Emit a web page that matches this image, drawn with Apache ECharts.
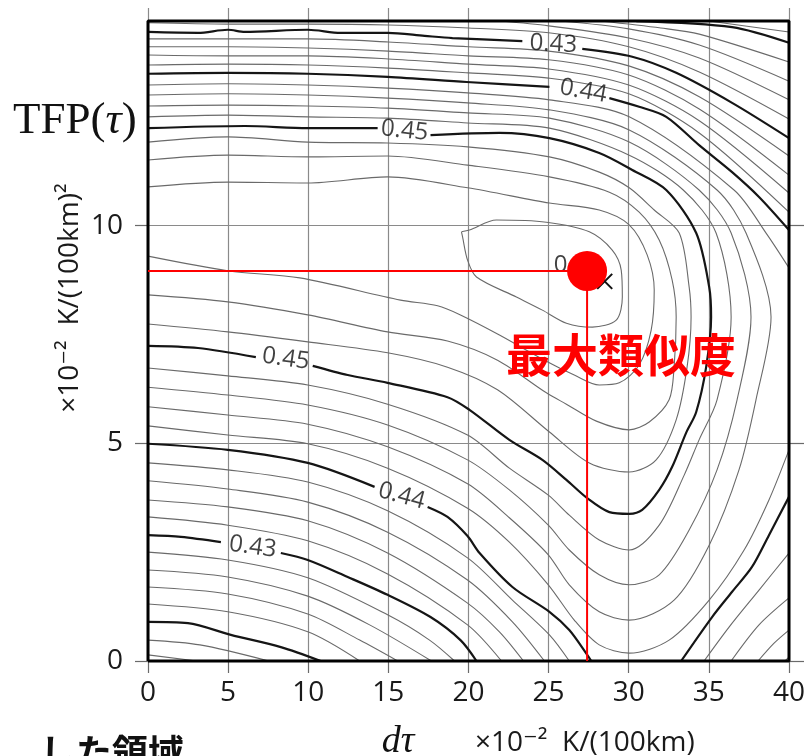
<!DOCTYPE html>
<html><head><meta charset="utf-8">
<script src="https://cdn.jsdelivr.net/npm/echarts@6/dist/echarts.min.js"></script>
<style>html,body{margin:0;padding:0;background:#fff}#c{width:808px;height:756px}</style>
</head><body><div id="c"></div>
<script>
// ---- axes ----
const X_MIN = 0, X_MAX = 40, Y_MIN = 0, Y_MAX = 15, STEP = 5;
const FRAME_TOP = 14.7;              // top of the computed TFP field
const yTickValues = [0, 5, 10];

// ---- maximum likelihood point ----
const peak = [27.4, 8.96];
const peakCross = [28.5, 8.72];

// ---- contour lines [dτ, TFP]; null separates pieces ----
const c416 = [[0,0.14],[3.05,0]];
const c418 = [[0,0.48],[3.24,0.37],[7.54,0], null, [35,14.70],[40,14.45]];
const c420 = [[30.47,14.70],[36.45,14.56],[40,14.20], null,
  [0,0.90],[2.49,0.87],[5.17,0.60],[8.29,0.32],[10.78,0]];
const c422 = [[28.2,14.70],[32,14.54],[34.4,14.40],[40,13.76], null,
  [0,1.31],[4.98,1.13],[9.97,0.67],[13.21,0]];
const c424 = [[25.7,14.70],[30,14.52],[34.4,14.15],[40,13.32], null,
  [0,1.70],[4.98,1.54],[9.97,1.08],[13.21,0.48],[15.58,0]];
const c426 = [[22.0,14.70],[25,14.59],[30,14.31],[34.4,13.85],[40,12.89], null,
  [0,2.09],[4.98,1.93],[9.97,1.49],[13.83,0.83],[17.69,0]];
const c428 = [[0,14.66],[5,14.63],[10,14.63],[15,14.61],[20,14.54],[25,14.43],[30,14.11],[34.4,13.53],[40,12.45], null,
  [0,2.50],[4.98,2.32],[9.97,1.91],[14.95,1.06],[17.57,0.48],[19.13,0]];
const c430 = [[0,14.45],[3.12,14.43],[4.98,14.50],[6.04,14.45],[9.97,14.50],[12.02,14.43],[14.95,14.43],[17.26,14.36],[19.00,14.31],[23.36,14.24], null,
  [27.10,14.06],[30.22,13.88],[32.96,13.51],[36.45,12.82],[40,12.01], null,
  [0,2.89],[2.06,2.85],[4.55,2.73], null,
  [8.29,2.48],[9.97,2.32],[12.46,1.93],[14.95,1.52],[17.63,1.01],[19.50,0.48],[20.50,0]];
const c432 = [[0,14.29],[5,14.29],[10,14.29],[15,14.22],[20,14.11],[25,14.01],[30,13.67],[34.4,12.96],[40,11.60], null,
  [0,3.31],[4.98,3.12],[9.97,2.76],[14.95,2.00],[19.94,0.83],[22.06,0], null,
  [39.75,0],[40,0.09]];
const c434 = [[0,14.11],[5,14.11],[10,14.08],[15,14.01],[20,13.90],[25,13.81],[30,13.46],[34.4,12.68],[40,11.16], null,
  [0,3.70],[4.98,3.54],[9.97,3.22],[14.95,2.48],[19.94,1.33],[21.93,0.67],[23.43,0], null,
  [38.07,0],[39.07,0.41],[40,0.71]];
const c436 = [[0,13.92],[5,13.90],[10,13.90],[15,13.83],[20,13.71],[25,13.60],[30,13.23],[34.4,12.41],[40,10.75], null,
  [0,4.14],[4.98,3.95],[9.97,3.65],[14.95,2.96],[19.94,1.86],[22.74,0.90],[24.74,0], null,
  [36.39,0],[38.13,0.83],[40,1.45]];
const c438 = [[0,13.69],[5,13.71],[10,13.69],[15,13.62],[20,13.51],[25,13.39],[30,13.03],[34.4,12.13],[40,10.31], null,
  [0,4.55],[4.98,4.39],[9.97,4.11],[14.95,3.45],[19.94,2.37],[22.74,1.40],[25.05,0.60],[26.29,0], null,
  [34.70,0],[36.26,0.78],[38.13,1.63],[40,2.48]];
const c440 = [[0,13.49],[4.98,13.51],[9.97,13.49],[14.95,13.42],[19.88,13.30],[25.05,13.19], null,
  [28.79,12.93],[30.65,12.73],[32.34,12.50],[34.39,11.85],[36.45,11.23],[38.13,10.66],[40,9.90], null,
  [0,4.99],[4.98,4.85],[9.97,4.55],[14.14,4.00], null,
  [17.45,3.54],[18.69,3.31],[19.94,2.87],[20.69,2.48],[22.74,1.70],[25.05,1.13],[26.29,0.71],[27.41,0.14],[27.66,0], null,
  [33.27,0],[35.20,1.01],[36.45,1.59],[37.69,2.16],[38.75,2.89],[40,3.77]];
const c442 = [[0,13.23],[4.98,13.26],[9.97,13.23],[14.95,13.16],[19.94,13.05],[25.05,12.89],[30.03,12.50],[36.57,10.82],[38.57,9.83],[40,9.03], null,
  [40,4.85],[38.75,3.70],[37.20,2.55],[35.02,1.40],[32.52,0.48],[30.03,0.18],[28.16,0.37],[26.60,0.94],[24.98,1.75],[22.55,2.73],[19.94,3.51],[14.95,4.43],[9.97,4.99],[4.98,5.19],[0,5.40]];
const c444 = [[0,13.00],[4.98,13.03],[9.97,13.00],[14.95,12.93],[19.94,12.82],[25.05,12.66],[30.03,12.20],[35.51,10.82],[37.32,9.83],[38.88,7.90],[37.94,6.00],[36.88,4.39],[35.02,2.66],[32.83,1.40],[30.03,0.94],[28.16,1.13],[26.29,1.75],[24.98,2.44],[22.55,3.29],[19.94,4.07],[14.95,4.92],[9.97,5.44],[4.98,5.65],[0,5.84]];
const c446 = [[0,12.75],[4.98,12.77],[9.97,12.75],[14.95,12.70],[19.94,12.59],[25.05,12.47],[30.03,11.92],[34.39,10.82],[36.39,9.83],[37.63,7.90],[36.76,6.00],[35.51,4.39],[33.77,3.01],[31.90,1.98],[30.03,1.75],[28.16,1.98],[26.29,2.55],[24.98,3.12],[22.55,3.93],[19.94,4.62],[14.95,5.42],[9.97,5.88],[4.98,6.11],[0,6.29]];
const c448 = [[0,12.50],[4.98,12.54],[9.97,12.50],[14.95,12.47],[19.94,12.36],[25.05,12.24],[30.03,11.62],[33.40,10.82],[35.45,9.83],[36.39,7.90],[35.51,6.00],[34.39,5.08],[33.46,4.27],[31.90,3.12],[30.03,2.55],[28.16,2.78],[26.29,3.35],[24.98,3.81],[22.55,4.43],[19.94,5.19],[14.95,5.90],[9.97,6.34],[4.98,6.55],[0,6.73]];
const c450 = [[0,12.24],[6.04,12.29],[9.97,12.24],[14.33,12.24], null,
  [17.63,12.08],[21.93,12.13],[25.05,12.01],[28.16,11.67],[30.22,11.28],[32.34,10.82],[34.21,9.83],[35.02,8.59],[35.14,7.90],[34.83,6.75],[34.21,5.72],[33.58,5.24],[32.71,4.46],[31.90,3.93],[30.84,3.47],[30.03,3.38],[28.79,3.42],[27.41,3.74],[26.11,4.16],[24.61,4.62],[22.55,5.08],[20.06,5.77],[18.69,6.06],[14.95,6.39],[12.46,6.57],[10.28,6.78], null,
  [6.73,6.98],[3.12,7.19],[0,7.24]];
const c452 = [[0,11.92],[4.98,12.04],[9.97,11.92],[14.95,11.90],[19.94,11.81],[25.05,11.58],[28.16,11.23],[30.03,10.87],[31.59,10.36],[33.15,9.83],[33.77,8.59],[33.89,7.90],[33.64,6.75],[32.96,5.54],[31.71,4.62],[30.03,4.34],[27.54,4.55],[25.05,5.26],[21.81,6.23],[18.69,6.75],[14.95,7.08],[9.97,7.33],[4.98,7.56],[0,7.74]];
const c454 = [[0,11.51],[4.98,11.62],[9.97,11.58],[14.95,11.60],[19.94,11.39],[25.05,11.12],[28.79,10.77],[30.65,10.31],[31.90,9.67],[32.71,8.75],[32.96,7.90],[32.83,6.75],[32.52,6.00],[31.28,5.49],[30.03,5.31],[27.98,5.51],[26.11,5.90],[24.86,6.16],[21.81,6.91],[18.69,7.35],[14.95,7.56],[9.97,7.95],[4.98,8.25],[0,8.41]];
const c456 = [[0,10.89],[4.98,11.00],[9.97,10.98],[14.95,11.12],[19.94,10.87],[25.05,10.52],[28.16,10.36],[30.03,10.02],[31.15,9.33],[31.59,8.52],[31.40,7.60],[30.65,6.80],[29.41,6.39],[28.16,6.34],[26.60,6.57],[24.74,6.91],[21.93,7.49],[19.50,7.95],[18.07,8.16],[15.76,8.29],[9.47,8.80],[5.05,8.96],[0,9.30]];
const c458 = [[19.56,9.86],[20.06,9.90],[21.74,10.13],[24.86,10.08],[27.54,9.86],[28.97,9.44],[29.53,8.98],[29.60,8.36],[29.22,7.83],[27.73,7.67],[26.11,7.76],[24.61,8.06],[22.99,8.36],[20.50,8.82],[19.94,9.21],[19.63,9.74],[19.56,9.86]];

// ---- contour labels: text, dτ, TFP, rotation(deg) ----
const labelText = ['0.43','0.44','0.45','0.45','0.44','0.43','0.46'];
const labelX    = [25.30, 27.17, 16.01, 8.60, 15.83, 6.54, 26.80];
const labelY    = [14.17, 13.09, 12.18, 6.94, 3.79, 2.62, 9.10];
const labelRot  = [-3, -10, -6, -8, -15, -8, 0];

const contourSet = [
  [0.416,c416],[0.418,c418],[0.420,c420],[0.422,c422],[0.424,c424],[0.426,c426],[0.428,c428],
  [0.430,c430],[0.432,c432],[0.434,c434],[0.436,c436],[0.438,c438],[0.440,c440],[0.442,c442],
  [0.444,c444],[0.446,c446],[0.448,c448],[0.450,c450],[0.452,c452],[0.454,c454],[0.456,c456],[0.458,c458]
];

function splitPieces(pts){
  const out=[]; let cur=[];
  pts.forEach(p=>{ if(p===null){ if(cur.length) out.push(cur); cur=[]; } else cur.push(p); });
  if(cur.length) out.push(cur);
  return out;
}

const series = [];
contourSet.forEach(([lv, pts])=>{
  const bold = Math.round(lv*1000) % 10 === 0;
  splitPieces(pts).forEach(piece=>{
    series.push({
      type:'line', data:piece, symbol:'none', showSymbol:false, smooth:0.3, silent:true,
      lineStyle:{color: bold ? '#151515' : '#6a6a6a', width: bold ? 2.2 : 1.1},
      z: bold ? 4 : 3
    });
  });
});

// frame of computed field
series.push({
  type:'line', clip:false, symbol:'none', silent:true, z:6,
  data:[[X_MIN,Y_MIN],[X_MAX,Y_MIN],[X_MAX,FRAME_TOP],[X_MIN,FRAME_TOP],[X_MIN,Y_MIN]],
  lineStyle:{color:'#000', width:3}
});

// contour labels
series.push({
  type:'scatter', silent:true, z:7, symbolSize:1, itemStyle:{color:'rgba(0,0,0,0)'},
  data: labelText.map((t,i)=>({value:[labelX[i],labelY[i]], label:{
    show:true, position:'inside', formatter:t, rotate:labelRot[i],
    fontSize:24, fontFamily:'Open Sans', color:'#111'}}))
});

// red guide lines
series.push({type:'line', symbol:'none', silent:true, z:8, data:[[X_MIN,peak[1]],[peak[0],peak[1]]], lineStyle:{color:'#ff0000', width:2}});
series.push({type:'line', symbol:'none', silent:true, z:8, data:[[peak[0],peak[1]],[peak[0],Y_MIN]], lineStyle:{color:'#ff0000', width:2}});
// cross marker
series.push({type:'scatter', silent:true, z:8, symbol:'path://M0,0L10,10M10,0L0,10', symbolSize:15,
  data:[peakCross], itemStyle:{color:'rgba(0,0,0,0)', borderColor:'#111', borderWidth:2, opacity:1}});
// red dot
series.push({type:'scatter', silent:true, z:9, symbol:'circle', symbolSize:40,
  data:[peak], itemStyle:{color:'#ff0000', opacity:1}});

const labelFont = {fontSize:28, color:'#1a1a1a', fontFamily:'Open Sans'};

const option = {
  animation:false,
  backgroundColor:'#ffffff',
  grid:{left:148, right:18, top:8, bottom:95, containLabel:false},
  xAxis:{type:'value', min:X_MIN, max:X_MAX, interval:STEP,
    axisLine:{show:false},
    axisTick:{show:true, length:12, lineStyle:{color:'#6a6a6a', width:1.2}},
    axisLabel:Object.assign({margin:18}, labelFont),
    splitLine:{show:true, lineStyle:{color:'#8a8a8a', width:1.2}}},
  yAxis:[
    {type:'value', min:Y_MIN, max:Y_MAX, interval:STEP,
     axisLine:{show:false},
     axisTick:{show:true, length:13, customValues:yTickValues, lineStyle:{color:'#6a6a6a', width:1.2}},
     axisLabel:Object.assign({margin:25, customValues:yTickValues}, labelFont),
     splitLine:{show:true, lineStyle:{color:['#8a8a8a','#8a8a8a','#8a8a8a','rgba(0,0,0,0)'], width:1.2}}},
    {type:'value', position:'right', min:Y_MIN, max:Y_MAX, interval:STEP,
     axisLine:{show:false},
     axisTick:{show:true, length:15, customValues:yTickValues, lineStyle:{color:'#6a6a6a', width:1.2}},
     axisLabel:{show:false}, splitLine:{show:false}}
  ],
  graphic:[
    {type:'text', x:13, y:121, z:10, style:{
      text:'{a|TFP(}{b|τ}{a|)}', verticalAlign:'middle', align:'left',
      rich:{a:{fontSize:45, fontFamily:'Liberation Serif', fill:'#111', color:'#111'},
            b:{fontSize:45, fontFamily:'Liberation Serif', fontStyle:'italic', fill:'#111', color:'#111'}}}},
    {type:'text', x:70, y:298, rotation:Math.PI/2, z:10, style:{
      text:'×10⁻²  K/(100km)²', font:'28px "Open Sans", "DejaVu Sans"', fill:'#1a1a1a',
      align:'center', verticalAlign:'middle'}},
    {type:'text', x:398, y:742, z:10, style:{
      text:'dτ', font:'italic 38px "Liberation Serif"', fill:'#111', align:'center', verticalAlign:'middle'}},
    {type:'text', x:475, y:743, z:10, style:{
      text:'×10⁻²  K/(100km)', font:'28px "Open Sans", "DejaVu Sans"', fill:'#1a1a1a', align:'left', verticalAlign:'middle'}},
    {type:'text', x:621, y:355, z:12, style:{
      text:'最大類似度', font:'bold 46px "Noto Sans CJK JP"', fill:'#ff0000', align:'center', verticalAlign:'middle'}},
    {type:'text', x:40, y:752, z:10, style:{
      text:'した領域', font:'bold 36px "Noto Sans CJK JP"', fill:'#111', align:'left', verticalAlign:'middle'}}
  ],
  series:series
};

const chart = echarts.init(document.getElementById('c'), null, {renderer:'canvas'});
chart.setOption(option);
</script>
</body></html>
